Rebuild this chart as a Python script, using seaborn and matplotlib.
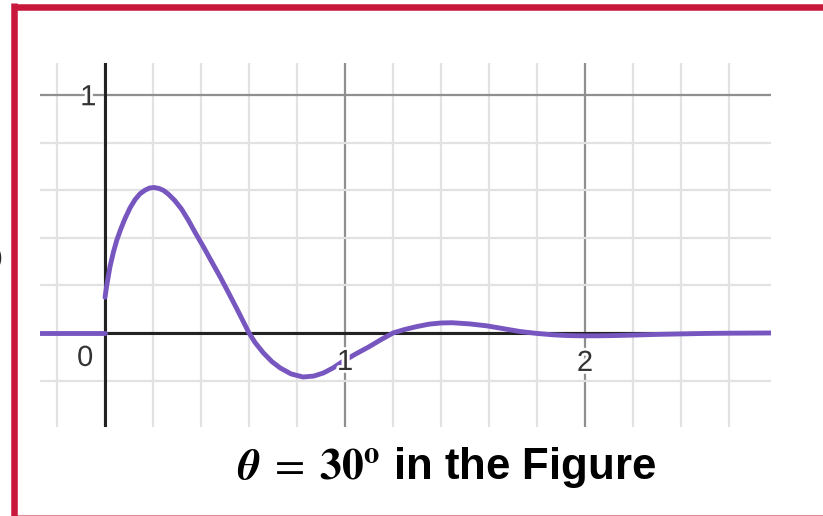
import matplotlib
matplotlib.use("Agg")
import matplotlib.pyplot as plt
import matplotlib.patheffects as pe
from matplotlib.lines import Line2D
from matplotlib.ticker import MultipleLocator
import pandas as pd
import seaborn as sns

# flat part before t = 0
pre_x = [-0.27, 0.0]
pre_y = [0.0, 0.0]

# response for t >= 0
resp_x = [0.0, 0.007, 0.021, 0.035, 0.049, 0.065, 0.083, 0.104, 0.125,
          0.146, 0.167, 0.186, 0.205, 0.225, 0.245, 0.264, 0.29, 0.319,
          0.347, 0.375, 0.41, 0.444, 0.48, 0.514, 0.55, 0.575, 0.60, 0.625,
          0.66, 0.695, 0.73, 0.775, 0.825, 0.87, 0.91, 0.95, 0.99, 1.045,
          1.10, 1.15, 1.20, 1.25, 1.30, 1.35, 1.40, 1.446, 1.52, 1.59, 1.66,
          1.73, 1.80, 1.87, 1.93, 1.99, 2.05, 2.12, 2.20, 2.30, 2.40, 2.50,
          2.60, 2.775]
resp_y = [0.15, 0.20, 0.28, 0.34, 0.39, 0.435, 0.48, 0.525, 0.56,
          0.585, 0.60, 0.609, 0.611, 0.607, 0.598, 0.583, 0.557, 0.52,
          0.474, 0.423, 0.362, 0.30, 0.235, 0.17, 0.10, 0.05, 0.0, -0.04,
          -0.084, -0.12, -0.147, -0.172, -0.185, -0.181, -0.168, -0.147,
          -0.12, -0.088, -0.058, -0.028, 0.0, 0.015, 0.027, 0.037, 0.042,
          0.043, 0.038, 0.03, 0.018, 0.006, -0.002, -0.008, -0.011, -0.012,
          -0.012, -0.011, -0.009, -0.006, -0.004, -0.002, -0.001, 0.0]

tick_vals = ["0", "1", "1", "2"]
title_math = r"$\mathbfit{\theta}\;=\;\mathbf{30^o}$"
title_text = " in the Figure"

sns.set_style("white")
plt.rcParams["font.family"] = ["Liberation Sans", "DejaVu Sans"]

fig = plt.figure(figsize=(8.23, 5.16), dpi=100)
ax = fig.add_axes([40 / 823, 1 - 427 / 516, 731 / 823, 364 / 516])

ax.set_xlim(-0.271, 2.775)
ax.set_ylim(-0.395, 1.134)
ax.xaxis.set_major_locator(MultipleLocator(1))
ax.xaxis.set_minor_locator(MultipleLocator(0.2))
ax.yaxis.set_major_locator(MultipleLocator(1))
ax.yaxis.set_minor_locator(MultipleLocator(0.2))
ax.grid(which="minor", color="#e2e2e2", lw=1.6, zorder=0)
ax.grid(which="major", color="#8f8f8f", lw=1.6, zorder=0)
ax.tick_params(which="both", length=0, labelbottom=False, labelleft=False)
for s in ax.spines.values():
    s.set_visible(False)
ax.set_axisbelow(True)

ax.axhline(0, color="#222222", lw=2.2, zorder=1)
ax.axvline(0, color="#222222", lw=2.2, zorder=1)

purple = "#7756c0"
pre = pd.DataFrame({"x": pre_x, "y": pre_y})
resp = pd.DataFrame({"x": resp_x, "y": resp_y})
sns.lineplot(data=pre, x="x", y="y", color=purple, lw=3.5, ax=ax,
             sort=False, zorder=3, solid_capstyle="round")
sns.lineplot(data=resp, x="x", y="y", color=purple, lw=3.5, ax=ax,
             sort=False, zorder=3, solid_capstyle="round",
             solid_joinstyle="round")
ax.set_xlabel("")
ax.set_ylabel("")

halo = [pe.withStroke(linewidth=4, foreground="white")]
lbl = dict(fontsize=21, color="#333333", ha="center", va="center",
           path_effects=halo, zorder=4)
ax.text(-0.083, -0.105, tick_vals[0], **lbl)
ax.text(-0.07, 0.99, tick_vals[1], **lbl)
ax.text(1.0, -0.122, tick_vals[2], **lbl)
ax.text(2.0, -0.126, tick_vals[3], **lbl)

fig.text(447 / 823, 1 - 468 / 516, title_math + title_text, fontsize=31.5,
         fontweight="bold", color="black", ha="center", va="center",
         math_fontfamily="stix")

# clipped bracket at the left edge
fig.text(3 / 823, 1 - 258 / 516, ")", fontsize=19, ha="right", va="center")

# red frame
red = "#c8193c"
fig.add_artist(Line2D([14.3 / 823, 14.3 / 823], [0, 1 - 3 / 516],
                      transform=fig.transFigure, color=red, lw=4.7,
                      solid_capstyle="butt"))
fig.add_artist(Line2D([11.5 / 823, 1], [1 - 6.5 / 516, 1 - 6.5 / 516],
                      transform=fig.transFigure, color=red, lw=4.7,
                      solid_capstyle="butt"))
fig.add_artist(Line2D([11.5 / 823, 1], [0.5 / 516, 0.5 / 516],
                      transform=fig.transFigure, color=red, lw=1.5, alpha=0.5,
                      solid_capstyle="butt"))

fig.savefig("out.png", dpi=100)
